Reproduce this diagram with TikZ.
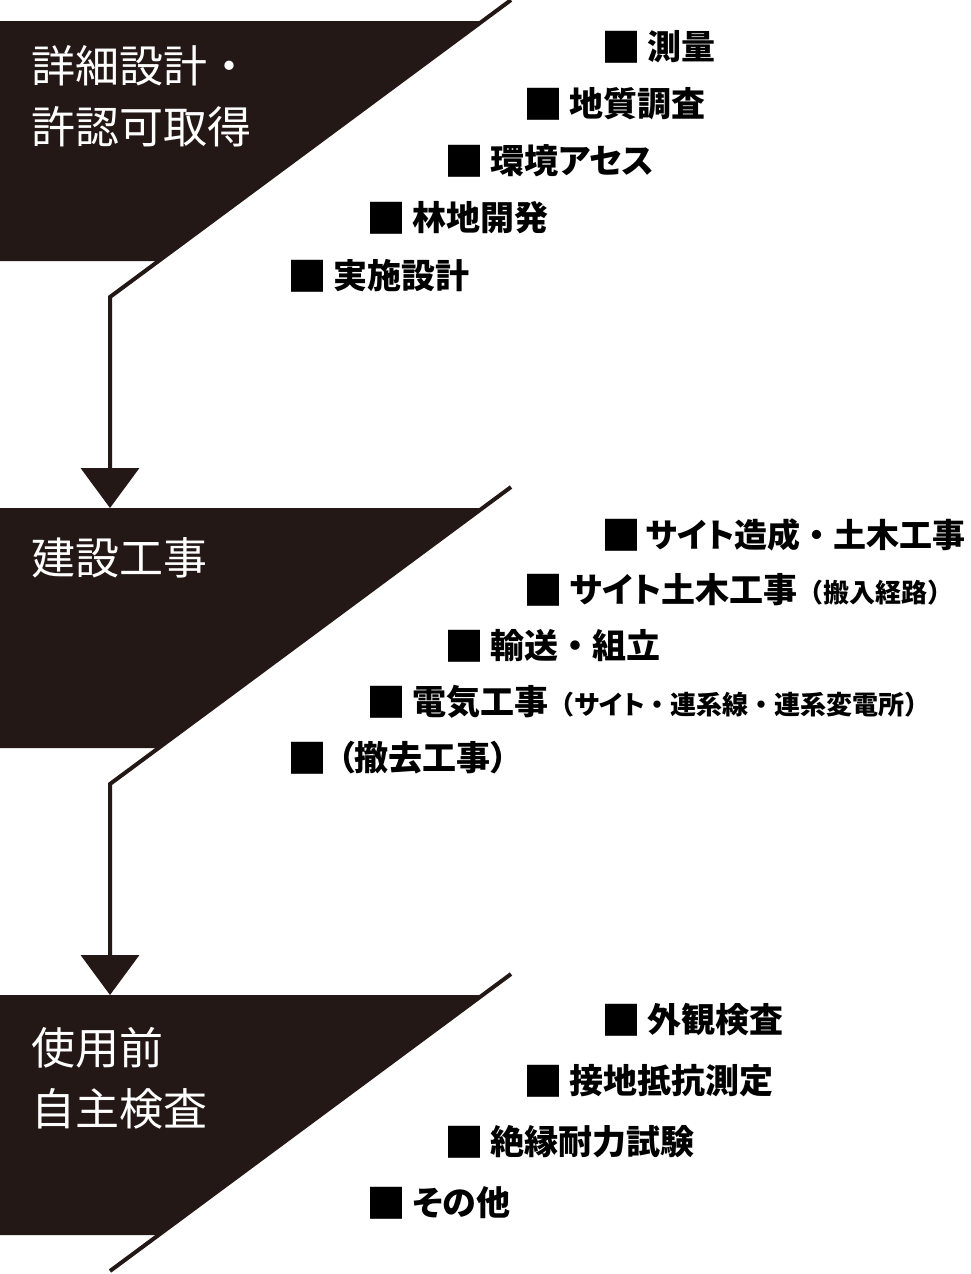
\documentclass[tikz,border=0pt]{standalone}
\usepackage{fontspec}
\setmainfont{Noto Sans CJK JP}
\newfontfamily\kanaprop{Noto Sans CJK JP}[RawFeature=+palt]
\newcommand{\kp}[1]{{\kanaprop\bfseries #1}}
\newcommand{\smallp}{\fontsize{26}{30}\selectfont}
\newcommand{\sqglyph}{\raisebox{-2.5pt}{\fontsize{40}{40}\selectfont■}}
\newcommand{\sqm}{\sqglyph\hspace{6pt}}
\usetikzlibrary{arrows.meta}
\definecolor{ink}{HTML}{231815}
\begin{document}
\begin{tikzpicture}[x=1pt,y=-1pt,
  blockfill/.style={fill=ink},
  flowline/.style={draw=ink,line width=4pt,line join=miter},
  arrowline/.style={flowline,-{Triangle[width=58pt,length=40pt]}},
  titletext/.style={text=white,anchor=west,inner sep=0pt,align=left,font=\fontsize{44}{61}\selectfont},
  itemtext/.style={text=black,anchor=west,inner sep=0pt,font=\fontsize{34}{40}\selectfont\bfseries}]
\useasboundingbox (0,0) rectangle (970,1274);
% blocks
\fill[blockfill] (0,21) -- (482.6,21) -- (158.6,261) -- (0,261) -- cycle;
\fill[blockfill] (0,508) -- (482.6,508) -- (158.6,748) -- (0,748) -- cycle;
\fill[blockfill] (0,995) -- (482.6,995) -- (158.6,1235) -- (0,1235) -- cycle;
% flow coordinates
\coordinate (s1) at (511,0);
\coordinate (k1) at (110,297);
\coordinate (t2) at (110,508);
\coordinate (s2) at (511,487);
\coordinate (k2) at (110,784);
\coordinate (t3) at (110,995);
\coordinate (s3) at (511,974);
\coordinate (e3) at (110,1271);
\draw[arrowline] (s1) -- (k1) -- (t2);
\draw[arrowline] (s2) -- (k2) -- (t3);
\draw[flowline] (s3) -- (e3);
% titles
\node[titletext] (h1) at (31,96.5) {詳細設計・\\許認可取得};
\node[titletext] (h2) at (31,558) {建設工事};
\node[titletext] (h3) at (31,1078) {使用前\\自主検査};
% block 1 items
\node[itemtext] (a1) at (601.5,47) {\sqm 測量};
\node[itemtext] (a2) at (523.5,104) {\sqm 地質調査};
\node[itemtext] (a3) at (444.5,161) {\sqm 環境\kp{アセス}};
\node[itemtext] (a4) at (366.5,218) {\sqm 林地開発};
\node[itemtext] (a5) at (287.5,276) {\sqm 実施設計};
% block 2 items
\node[itemtext,font=\fontsize{33}{40}\selectfont\bfseries] (b1) at (601.5,535) {\sqglyph\hspace{4pt}\kp{サイト}造成・土木工事};
\node[itemtext] (b2) at (523.5,590) {\sqm\kp{サイト}土木工事{\smallp（搬入経路）}};
\node[itemtext] (b3) at (444.5,646) {\sqm 輸送・組立};
\node[itemtext] (b4) at (366.5,702) {\sqm 電気工事{\smallp（\kp{サイト}・連系線・連系変電所）}};
\node[itemtext] (b5) at (287.5,758) {\sqm\hspace{4pt}\kp{（}撤去工事\kp{）}};
% block 3 items
\node[itemtext] (c1) at (601.5,1020) {\sqm 外観検査};
\node[itemtext] (c2) at (523.5,1081) {\sqm 接地抵抗測定};
\node[itemtext] (c3) at (444.5,1142) {\sqm 絶縁耐力試験};
\node[itemtext] (c4) at (366.5,1203) {\sqm\kp{その}他};
\end{tikzpicture}
\end{document}
